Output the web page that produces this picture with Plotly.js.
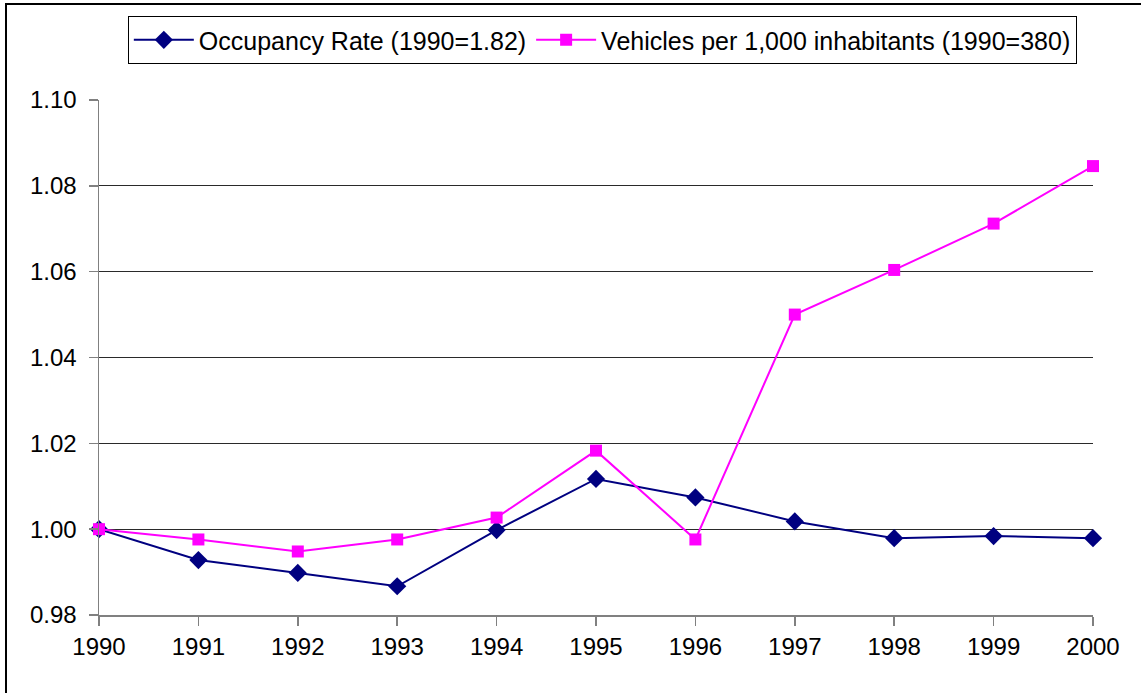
<!DOCTYPE html>
<html>
<head>
<meta charset="utf-8">
<script src="https://cdn.plot.ly/plotly-3.0.1.min.js"></script>
<style>
html,body{margin:0;padding:0;overflow:hidden;background:#fff;}
#frame{position:absolute;left:5px;top:3px;width:1200px;height:800px;border:2px solid #000;box-sizing:border-box;pointer-events:none;z-index:2;}
#chart{position:absolute;left:0;top:0;width:1141px;height:693px;}
</style>
</head>
<body>
<div id="chart"></div>
<div id="frame"></div>
<script>
const years = [1990, 1991, 1992, 1993, 1994, 1995, 1996, 1997, 1998, 1999, 2000];
const occupancyRate = [1.000, 0.9928, 0.9898, 0.9867, 0.9998, 1.0117, 1.0074, 1.0018, 0.9979, 0.9984, 0.9979];
const vehiclesPer1000 = [1.000, 0.9976, 0.9948, 0.9976, 1.0027, 1.0183, 0.9976, 1.0500, 1.0604, 1.0712, 1.0846];
const seriesNames = ["Occupancy Rate (1990=1.82)", "Vehicles per 1,000 inhabitants (1990=380)"];
const yTicks = [0.98, 1.00, 1.02, 1.04, 1.06, 1.08, 1.10];

const font = "Liberation Sans, Arial, Helvetica, sans-serif";

const traces = [
  {
    x: years, y: occupancyRate, name: seriesNames[0],
    type: "scatter", mode: "lines+markers", cliponaxis: false,
    line: {color: "#000080", width: 2},
    marker: {symbol: "diamond", size: 14, color: "#000080"}
  },
  {
    x: years, y: vehiclesPer1000, name: seriesNames[1],
    type: "scatter", mode: "lines+markers", cliponaxis: false,
    line: {color: "#FF00FF", width: 2},
    marker: {symbol: "square", size: 12, color: "#FF00FF"}
  }
];

const layout = {
  width: 1141, height: 693,
  margin: {l: 99, r: 48, t: 100, b: 78, pad: 0},
  paper_bgcolor: "#fff", plot_bgcolor: "#fff",
  font: {family: font, size: 24, color: "#000"},
  showlegend: true,
  legend: {
    orientation: "h", x: 0.029, y: 1.163, xanchor: "left", yanchor: "top",
    bordercolor: "#000", borderwidth: 1, bgcolor: "#fff",
    font: {family: font, size: 25, color: "#000"},
    itemwidth: 60, tracegroupgap: 0
  },
  xaxis: {
    range: [1990, 2000], tickmode: "array", tickvals: years, ticktext: years.map(String),
    showgrid: false, zeroline: false, showline: true, linecolor: "#808080", linewidth: 1.5,
    ticks: "outside", ticklen: 9, tickcolor: "#808080", tickwidth: 1.5, ticklabelstandoff: 1,
    tickfont: {family: font, size: 24, color: "#000"}, fixedrange: true
  },
  yaxis: {
    range: [0.98, 1.10], tickmode: "array", tickvals: yTicks, ticktext: yTicks.map(v => v.toFixed(2)),
    showgrid: true, gridcolor: "#2a2a2a", gridwidth: 1,
    zeroline: false, showline: true, linecolor: "#808080", linewidth: 1.5,
    ticks: "outside", ticklen: 9, tickcolor: "#808080", tickwidth: 1.5, ticklabelstandoff: 7,
    tickfont: {family: font, size: 24, color: "#000"}, fixedrange: true
  }
};

Plotly.newPlot("chart", traces, layout, {displayModeBar: false, staticPlot: true});
</script>
</body>
</html>
